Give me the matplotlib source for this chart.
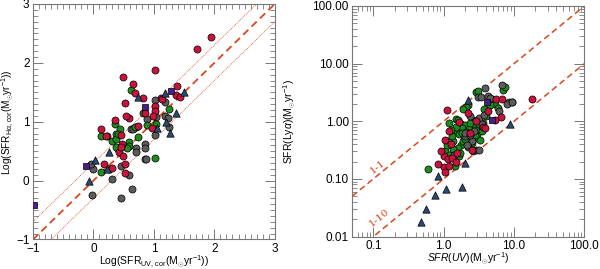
import numpy as np
import matplotlib
matplotlib.use("Agg")
import matplotlib.pyplot as plt
from matplotlib.ticker import MultipleLocator, FixedLocator, NullFormatter, LogLocator

plt.rcParams['font.family'] = ['Liberation Sans', 'DejaVu Sans']
plt.rcParams['mathtext.fontset'] = 'custom'
plt.rcParams['mathtext.rm'] = 'Liberation Sans'
plt.rcParams['mathtext.it'] = 'Liberation Sans:italic'
plt.rcParams['mathtext.fallback'] = 'cm'

# ---- left panel data: log SFR(UV, cor) vs log SFR(Halpha, cor)
red_l_x = [1.95, 1.72, 1.01, 0.49, 0.66, 0.68, 0.53, 0.58, 0.54, 0.35, 0.12, 0.22, 0.45, 0.82,
           1.01, 1.01, 0.86, 0.98, 1.11, 1.13, 1.38, 1.37, 1.44, 0.97, 0.73, 0.48, 0.43, 0.49,
           0.52, 0.52, 0.17, 0.31, 0.46, 0.20]
red_l_y = [2.44, 2.24, 1.88, 1.76, 1.64, 1.48, 1.32, 1.07, 1.10, 1.03, 0.87, 0.76, 0.77, 1.40,
           1.26, 1.18, 1.15, 1.09, 1.40, 1.39, 1.60, 1.45, 1.42, 0.90, 0.92, 0.62, 0.48, 0.41,
           0.28, 0.13, 0.29, 0.22, 0.57, 0.75]
green_l_x = [0.62, 0.35, 0.13, 0.37, 0.44, 0.38, 0.30, 0.38, 0.58, 0.59, 0.55, 0.68, 0.73, 0.89,
             1.03, 1.25, 0.82, 0.13, 1.02, 0.40]
green_l_y = [1.54, 0.96, 0.76, 0.80, 0.87, 0.57, 0.67, 0.70, 0.66, 0.59, 0.56, 0.91, 0.74, 0.94,
             0.96, 1.22, 1.15, 0.15, 0.38, 0.80]
gray_l_x = [1.19, 1.01, 1.18, 1.24, 1.25, 0.88, 1.03, 1.02, 0.85, 0.85, 0.70, 0.70, 0.62, 0.41,
            0.46, 0.58, 0.30, 0.25, 0.00, -0.04, -0.03, 0.46, 0.64, 0.85, 0.87, 0.71, 0.66]
gray_l_y = [1.34, 1.37, 1.09, 1.06, 0.91, 1.04, 1.08, 0.78, 0.62, 0.56, 0.56, 0.48, 0.87, 0.53,
            0.24, 0.10, 0.02, 0.20, 0.20, 0.28, -0.24, -0.30, -0.14, 0.36, 0.37, 0.91, 0.88]
tri_l_x = [0.03, -0.08, 0.26, 0.74, 1.18, 1.49, 1.36, 1.20, 1.05, 1.26, 0.23]
tri_l_y = [0.35, 0.00, 0.48, 1.42, 1.49, 1.50, 1.15, 0.99, 0.89, 0.81, 0.20]
sq_l_x = [-0.98, -0.12, 0.85, 1.29]
sq_l_y = [-0.42, 0.25, 1.25, 1.53]

# ---- right panel data: SFR(UV) vs SFR(Lya)
red_r_x = [18.0, 1.10, 5.6, 6.8, 4.3, 6.6, 5.4, 3.6, 1.65, 2.2, 1.2, 1.05, 2.85, 2.55, 1.0, 1.16,
           1.33, 1.48, 0.84, 1.0, 1.05, 1.2, 0.92, 1.55, 2.4, 1.25, 3.9]
red_r_y = [2.45, 1.58, 2.4, 2.4, 1.5, 1.17, 1.04, 0.81, 0.97, 1.38, 0.67, 0.48, 1.00, 0.32, 0.25,
           0.22, 0.23, 0.20, 0.18, 0.16, 0.13, 0.165, 0.30, 0.28, 0.62, 0.40, 0.75]
green_r_x = [6.9, 2.84, 3.1, 4.9, 5.4, 8.6, 5.9, 2.2, 2.05, 1.9, 1.48, 1.6, 1.2, 2.6, 2.75, 1.75,
             2.0, 2.3, 1.84, 1.4, 1.65, 2.3, 2.7, 3.0, 1.76, 1.58, 1.36, 1.16, 1.05, 1.2, 1.45,
             0.6, 1.65, 2.45, 2.9, 3.45, 1.3, 2.1, 2.5, 3.3, 1.9, 2.2, 1.5, 2.6, 3.6, 4.0, 1.1,
             1.8, 2.0, 2.8, 3.2, 1.35, 9.5, 7.5, 3.8, 1.25, 2.35, 1.7, 4.5]
green_r_y = [3.5, 3.25, 3.4, 2.4, 2.0, 2.2, 1.7, 1.95, 1.8, 1.6, 1.11, 1.05, 0.92, 1.05, 0.85, 0.9,
             0.87, 0.74, 0.77, 0.67, 0.59, 0.51, 0.51, 0.59, 0.39, 0.35, 0.45, 0.45, 0.30, 0.26, 0.17,
             0.15, 0.245, 0.62, 0.70, 0.69, 0.55, 0.65, 0.42, 0.48, 0.46, 0.36, 0.80, 0.30, 0.95,
             1.25, 0.38, 0.62, 0.50, 0.58, 0.88, 0.33, 2.2, 4.0, 1.6, 0.70, 0.95, 0.28, 1.9]
gray_r_x = [6.8, 3.85, 3.1, 3.4, 4.3, 8.0, 6.2, 2.33, 3.2, 3.7, 2.0, 2.0, 2.55, 2.16, 2.9, 3.2,
            1.4, 2.4, 4.6, 9.2, 3.5, 2.7]
gray_r_y = [4.2, 3.8, 2.6, 2.6, 2.7, 2.0, 1.5, 1.22, 1.14, 1.27, 0.55, 0.62, 0.45, 0.39, 0.32, 0.32,
            0.26, 0.58, 2.5, 2.2, 0.90, 0.68]
tri_r_x = [0.48, 0.56, 0.75, 0.82, 1.08, 1.8, 2.0, 8.9, 2.2]
tri_r_y = [0.018, 0.030, 0.053, 0.11, 0.066, 0.072, 0.19, 0.90, 2.3]
sq_r_x = [4.1, 4.9]
sq_r_y = [2.2, 1.05]

red = '#c8143c'
green = '#1f8a1f'
gray = '#5c5c5c'
purple = '#4a1e8a'
navy = '#2c4a70'
line_c = '#d9481c'
frame_c = '#777777'

fig = plt.figure(figsize=(6.0, 2.69), dpi=100)
ax = fig.add_axes([0.055, 0.1097, 0.403, 0.8755])
bx = fig.add_axes([0.587, 0.1208, 0.387, 0.8569])


def style(a):
    for s in a.spines.values():
        s.set_color(frame_c)
        s.set_linewidth(0.8)
    a.tick_params(which='both', direction='in', top=True, right=True, color=frame_c,
                  labelsize=8.5, pad=2.5)
    a.tick_params(which='major', length=7, width=0.7)
    a.tick_params(which='minor', length=3.5, width=0.6)


def scat(a, x, y, c, m='o', s=26):
    a.scatter(x, y, s=s, marker=m, c=c, edgecolors='black', linewidths=0.5, zorder=3)


# left panel
xx = np.array([-1.0, 3.0])
ax.plot(xx, xx, ls=(0, (4, 2.5)), color=line_c, lw=1.3, zorder=2)
ax.plot(xx, xx + 0.3, ls=(0, (1, 1.2)), color=line_c, lw=0.6, zorder=2)
ax.plot(xx, xx - 0.3, ls=(0, (1, 1.2)), color=line_c, lw=0.6, zorder=2)
scat(ax, gray_l_x, gray_l_y, gray)
scat(ax, green_l_x, green_l_y, green)
scat(ax, red_l_x, red_l_y, red)
scat(ax, tri_l_x, tri_l_y, navy, m='^', s=28)
scat(ax, sq_l_x, sq_l_y, purple, m='s', s=24)
ax.set_xlim(-1, 3)
ax.set_ylim(-1, 3)
ax.xaxis.set_major_locator(MultipleLocator(1))
ax.yaxis.set_major_locator(MultipleLocator(1))
ax.xaxis.set_minor_locator(MultipleLocator(0.1))
ax.yaxis.set_minor_locator(MultipleLocator(0.1))
style(ax)
ax.set_xlabel(r'Log(SFR$_{\rm UV,\,cor}$(M$_{\odot}$yr$^{-1}$))', fontsize=7.5)
ax.set_ylabel(r'Log(SFR$_{\rm H\alpha,\,cor}$(M$_{\odot}$yr$^{-1}$))', fontsize=7.2)
ax.xaxis.set_label_coords(0.5, -0.06)
ax.yaxis.set_label_coords(-0.071, 0.5)

# right panel
lx = np.array([0.05, 100.0])
bx.plot(lx, lx, ls=(0, (4, 2.5)), color=line_c, lw=1.1, zorder=2)
bx.plot(lx, lx / 10.0, ls=(0, (4, 2.5)), color=line_c, lw=1.1, zorder=2)
scat(bx, green_r_x, green_r_y, green)
scat(bx, gray_r_x, gray_r_y, gray)
scat(bx, red_r_x, red_r_y, red)
scat(bx, tri_r_x, tri_r_y, navy, m='^', s=28)
scat(bx, sq_r_x, sq_r_y, purple, m='s', s=24)
bx.set_xscale('log')
bx.set_yscale('log')
bx.set_xlim(0.05, 100)
bx.set_ylim(0.01, 100)
bx.xaxis.set_major_locator(FixedLocator([0.1, 1, 10, 100]))
bx.yaxis.set_major_locator(FixedLocator([0.01, 0.1, 1, 10, 100]))
bx.xaxis.set_minor_locator(LogLocator(base=10, subs=np.arange(2, 10), numticks=20))
bx.yaxis.set_minor_locator(LogLocator(base=10, subs=np.arange(2, 10), numticks=20))
bx.xaxis.set_minor_formatter(NullFormatter())
bx.yaxis.set_minor_formatter(NullFormatter())
bx.set_xticklabels(['0.1', '1.0', '10.0', '100.0'])
bx.set_yticklabels(['0.01', '0.10', '1.00', '10.00', '100.00'])
style(bx)
bx.set_xlabel(r'$\it{SFR(UV)}$(M$_{\odot}$yr$^{-1}$)', fontsize=7.5)
bx.set_ylabel(r'SFR(Ly$\alpha$)(M$_{\odot}$yr$^{-1}$)', fontsize=7.5)
bx.xaxis.set_label_coords(0.5, -0.064)
bx.yaxis.set_label_coords(-0.233, 0.5)
bx.text(0.115, 0.16, '1-1', rotation=39, color=line_c, fontsize=7.5, family='DejaVu Serif',
        ha='center', va='center', rotation_mode='anchor')
bx.text(0.12, 0.021, '1-10', rotation=39, color=line_c, fontsize=7.5, family='DejaVu Serif',
        ha='center', va='center', rotation_mode='anchor')

fig.savefig('out.png', dpi=100)
